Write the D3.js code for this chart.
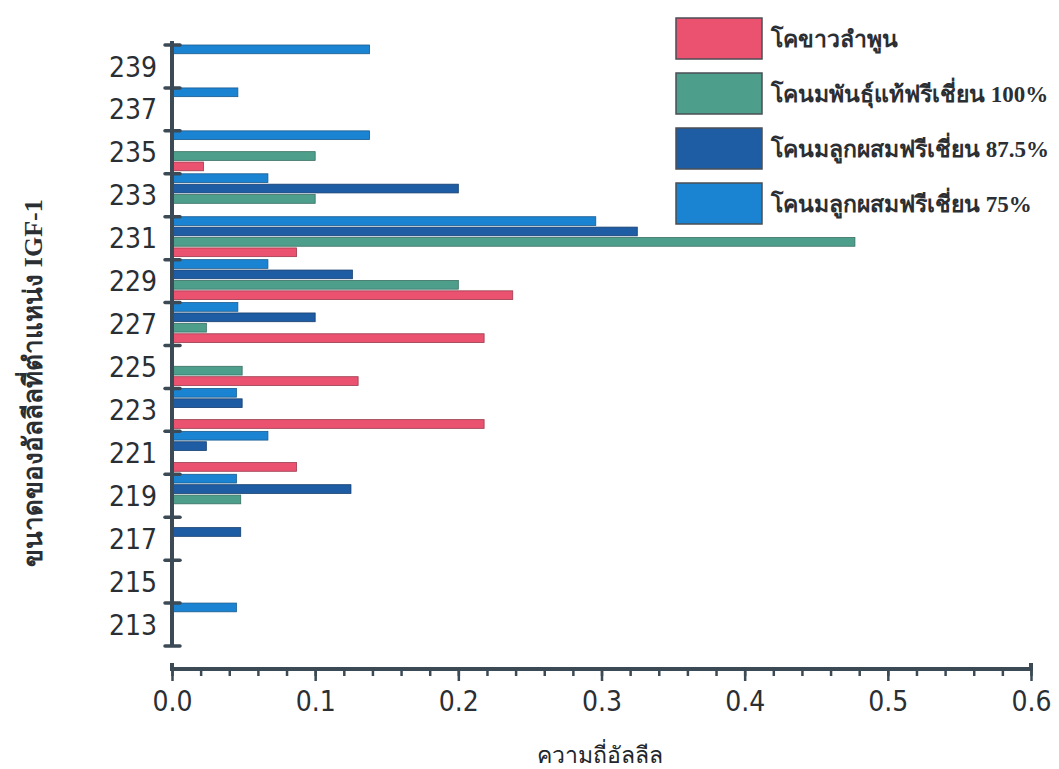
<!DOCTYPE html>
<html>
<head>
<meta charset="utf-8">
<script src="https://cdn.jsdelivr.net/npm/d3@7"></script>
<style>
  html, body { margin: 0; padding: 0; background: #ffffff; }
  svg { display: block; }
</style>
</head>
<body>
<svg id="chart" width="1059" height="769"></svg>
<script>
// Allele sizes at the IGF-1 locus (top to bottom)
const alleleSizes = [239, 237, 235, 233, 231, 229, 227, 225, 223, 221, 219, 217, 215, 213];

// Allele frequency per group, aligned with alleleSizes
const freqLamphun   = [0, 0, 0.022, 0, 0.087, 0.238, 0.218, 0.130, 0.218, 0.087, 0, 0, 0, 0];
const freqHF100     = [0, 0, 0.100, 0.100, 0.477, 0.200, 0.024, 0.049, 0, 0, 0.048, 0, 0, 0];
const freqHF875     = [0, 0, 0, 0.200, 0.325, 0.126, 0.100, 0, 0.049, 0.024, 0.125, 0.048, 0, 0];
const freqHF75      = [0.138, 0.046, 0.138, 0.067, 0.296, 0.067, 0.046, 0, 0.045, 0.067, 0.045, 0, 0, 0.045];

// Group names (legend order) and the order of bars inside each band (top to bottom)
const groupNames = ["โคขาวลำพูน", "โคนมพันธุ์แท้ฟรีเชี่ยน 100%", "โคนมลูกผสมฟรีเชี่ยน 87.5%", "โคนมลูกผสมฟรีเชี่ยน 75%"];
const groupValues = [freqLamphun, freqHF100, freqHF875, freqHF75];
const barOrder = [3, 2, 1, 0];

const xTicks = [0, 0.1, 0.2, 0.3, 0.4, 0.5, 0.6];
const xTitle = "ความถี่อัลลีล";
const yTitle = "ขนาดของอัลลีลที่ตำแหน่ง IGF-1";

const fills   = ["#ea5270", "#4d9f8c", "#1e5ca4", "#1b84d2"];
const strokes = ["#9a3a4c", "#3a6f63", "#173f6e", "#1a5b8e"];
const axisColor = "#3b4a55";

const svg = d3.select("#chart");

const x = d3.scaleLinear().domain([0, 0.6]).range([172, 1031]);
const y = d3.scaleBand().domain(alleleSizes).range([45, 646]).padding(0);
const yInner = d3.scaleBand().domain(barOrder).range([0, y.bandwidth() - 3]).paddingInner(0.16);

// Bars
const rows = [];
alleleSizes.forEach((s, i) => {
  barOrder.forEach(g => {
    const v = groupValues[g][i];
    if (v > 0) rows.push({ size: s, group: g, value: v });
  });
});

svg.append("g").selectAll("rect").data(rows).join("rect")
  .attr("x", x(0))
  .attr("y", d => y(d.size) + yInner(d.group))
  .attr("width", d => x(d.value) - x(0))
  .attr("height", yInner.bandwidth())
  .attr("fill", d => fills[d.group])
  .attr("stroke", d => strokes[d.group])
  .attr("stroke-width", 0.8);

// Y axis: band boundaries as ticks, labels centred in each band
const yAxisG = svg.append("g");
yAxisG.append("line")
  .attr("x1", 172).attr("x2", 172)
  .attr("y1", y.range()[0] - 4).attr("y2", y.range()[1])
  .attr("stroke", axisColor).attr("stroke-width", 4);
const boundaries = alleleSizes.map(s => y(s)).concat([y.range()[1]]);
yAxisG.selectAll("line.tick").data(boundaries).join("line")
  .attr("class", "tick")
  .attr("x1", 165).attr("x2", 180)
  .attr("y1", d => d).attr("y2", d => d)
  .attr("stroke", axisColor).attr("stroke-width", 3.5)
  .attr("stroke-linecap", "round");
yAxisG.selectAll("text").data(alleleSizes).join("text")
  .attr("x", 157)
  .attr("y", d => y(d) + y.bandwidth() / 2)
  .attr("dy", "0.36em")
  .attr("text-anchor", "end")
  .attr("font-family", "'DejaVu Sans Condensed', 'Liberation Sans Narrow', sans-serif")
  .attr("font-size", 28)
  .attr("fill", "#2b2f33")
  .text(d => d);

// X axis with minor ticks every 0.02
const xAxisY = 669;
const xAxisG = svg.append("g").attr("transform", `translate(0,${xAxisY})`);
xAxisG.call(d3.axisBottom(x).tickValues(d3.range(0, 0.6001, 0.02)).tickSize(7).tickFormat(""))
  .call(g => g.select(".domain").remove())
  .call(g => g.selectAll("line").attr("stroke", axisColor).attr("stroke-width", 2.5));
xAxisG.append("g")
  .call(d3.axisBottom(x).tickValues(xTicks).tickSize(12).tickPadding(10).tickFormat(d3.format(".1f")))
  .call(g => g.select(".domain").remove())
  .call(g => g.selectAll("line").attr("stroke", axisColor).attr("stroke-width", 2.5))
  .call(g => g.selectAll("text")
    .attr("font-family", "'DejaVu Sans Condensed', 'Liberation Sans Narrow', sans-serif")
    .attr("font-size", 28).attr("fill", "#2b2f33"));
xAxisG.append("path")
  .attr("d", `M${x(0)},-6V0H${x(0.6)}V-6`)
  .attr("fill", "none").attr("stroke", axisColor).attr("stroke-width", 4);

// Axis titles
svg.append("text")
  .attr("x", 600).attr("y", 763)
  .attr("text-anchor", "middle")
  .attr("font-family", "'Noto Sans', 'DejaVu Sans Condensed', sans-serif")
  .attr("font-size", 23)
  .attr("fill", "#22262a")
  .text(xTitle);

svg.append("text")
  .attr("transform", "translate(42,383) rotate(-90)")
  .attr("text-anchor", "middle")
  .attr("font-family", "'Liberation Serif', 'Noto Serif', serif")
  .attr("font-size", 26)
  .attr("font-weight", "bold")
  .attr("fill", "#2b2f33")
  .text(yTitle);

// Legend
const legend = svg.append("g").attr("transform", "translate(676,18)");
const legendRows = legend.selectAll("g").data(groupNames).join("g")
  .attr("transform", (d, i) => `translate(0,${i * 55})`);
legendRows.append("rect")
  .attr("width", 86).attr("height", 41)
  .attr("fill", (d, i) => fills[i])
  .attr("stroke", "#4a4f55").attr("stroke-width", 1.5);
legendRows.append("text")
  .attr("x", 95).attr("y", 29)
  .attr("font-family", "'Liberation Serif', 'Noto Serif', serif")
  .attr("font-size", 23)
  .attr("font-weight", "bold")
  .attr("fill", "#2b2f33")
  .text(d => d);
</script>
</body>
</html>
